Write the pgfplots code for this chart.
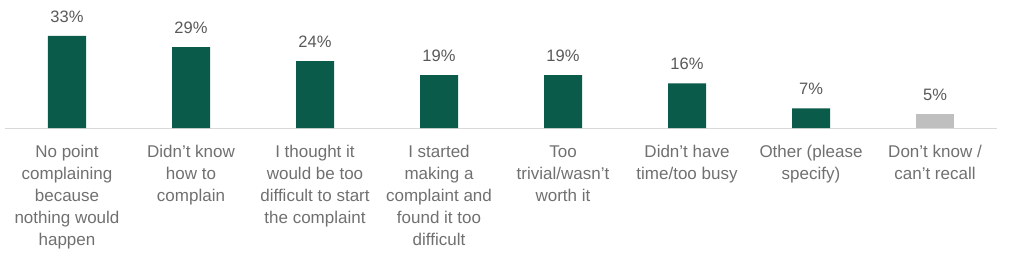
\documentclass[border=0pt]{standalone}
\usepackage{pgfplots}
\pgfplotsset{compat=1.18}
\usepackage{fontspec}
\setmainfont{Liberation Sans}
\definecolor{bargreen}{HTML}{0B5B4B}
\definecolor{bargray}{HTML}{BFBFBF}
\definecolor{txtgray}{HTML}{707070}
\definecolor{valgray}{HTML}{595959}
\definecolor{linegray}{HTML}{D9D9D9}
\begin{document}
\begin{tikzpicture}
\begin{axis}[
  scale only axis,
  width=992pt, height=128pt,
  xmin=-0.5, xmax=7.5, ymin=0, ymax=45.9,
  axis x line=bottom, axis y line=none,
  x axis line style={-, draw=linegray, line width=1pt},
  xtick={0,...,7}, major tick length=0pt,
  /pgf/number format/assume math mode=true,
  xticklabels={
    {No point\\complaining\\because\\nothing would\\happen},
    {Didn’t know\\how to\\complain},
    {I thought it\\would be too\\difficult to start\\the complaint},
    {I started\\making a\\complaint and\\found it too\\difficult},
    {Too\\trivial/wasn’t\\worth it},
    {Didn’t have\\time/too busy},
    {Other (please\\specify)},
    {Don’t know /\\can’t recall}},
  xticklabel style={align=center, font=\fontsize{17}{22}\selectfont, text=txtgray, anchor=north, yshift=-14pt},
  ytick=\empty,
  ybar, bar width=38pt, bar shift=0pt,
  nodes near coords={\pgfmathprintnumber{\pgfplotspointmeta}\%},
  every node near coord/.append style={font=\fontsize{16.5}{19}\selectfont, text=valgray, yshift=10pt},
  clip=false,
]
\addplot[fill=bargreen, draw=none] coordinates {(0,33) (1,29) (2,24) (3,19) (4,19) (5,16) (6,7)};
\addplot[fill=bargray, draw=none] coordinates {(7,5)};
\end{axis}
\pgfresetboundingbox
\path[use as bounding box] (current axis.south west) ++(-5pt,-132pt) rectangle ++(1011pt,260pt);
\end{tikzpicture}
\end{document}
